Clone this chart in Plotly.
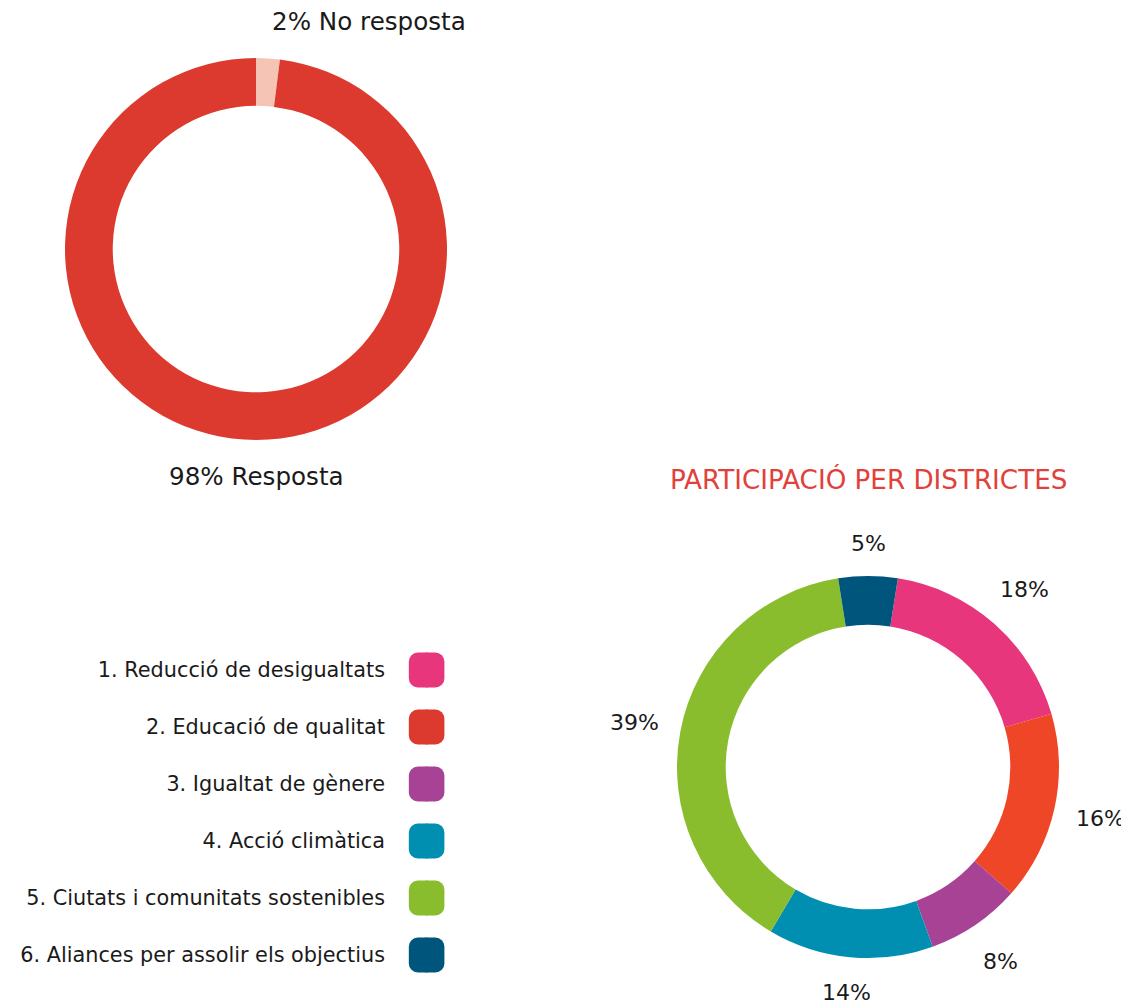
import math
import plotly.graph_objects as go

# page body has an 8px margin: the figure is drawn from (8, 8)
OFF = 8
W, H = 1129 - OFF, 1005 - OFF

# ---- data ----
resp_labels = ["No resposta", "Resposta"]
resp_values = [2, 98]
resp_colors = ["#F5C4B5", "#DC3A2F"]

cat_labels = [
    "1. Reducció de desigualtats",
    "2. Educació de qualitat",
    "3. Igualtat de gènere",
    "4. Acció climàtica",
    "5. Ciutats i comunitats sostenibles",
    "6. Aliances per assolir els objectius",
]
# slice order in the district donut (clockwise)
dist_values = [18, 16, 8, 14, 39, 5]
cat_colors = ["#E8367C", "#DC3A2F", "#A84294", "#008FB0", "#8ABD2E", "#00557D"]
dist_colors = ["#E8367C", "#EE4626", "#A84294", "#008FB0", "#8ABD2E", "#00557D"]
dist_title = "PARTICIPACIÓ PER DISTRICTES"

FONT = "DejaVu Sans"
TXT = "#1a1a1a"


def X(px):
    return (px - OFF) / W


def Y(py):
    return 1 - (py - OFF) / H


fig = go.Figure()

# geometry (reference pixels)
top_c = (256, 249)
bot_c = (868, 767)
R = 191
top_rot = 0
bot_rot = 9


def dom(c):
    return dict(x=[X(c[0] - R), X(c[0] + R)], y=[Y(c[1] + R), Y(c[1] - R)])


fig.add_trace(go.Pie(
    labels=resp_labels, values=resp_values, sort=False, direction="clockwise",
    rotation=top_rot, hole=0.75, marker=dict(colors=resp_colors, line=dict(width=0)),
    textinfo="none", hoverinfo="label+percent", domain=dom(top_c), showlegend=False,
))

fig.add_trace(go.Pie(
    labels=[str(i) for i in range(len(dist_values))], values=dist_values, sort=False,
    direction="clockwise", rotation=bot_rot, hole=0.745,
    marker=dict(colors=dist_colors, line=dict(width=0)),
    textinfo="none", hoverinfo="percent", domain=dom(bot_c), showlegend=False,
))


def add_labels(values, texts, center, rot, r0, hw, hh, anchor_rule, size):
    total = sum(values)
    acc = 0
    for v, t in zip(values, texts):
        mid = rot + (acc + v / 2) / total * 360
        acc += v
        a = math.radians(mid)
        s, c = math.sin(a), math.cos(a)
        rad = r0 + abs(s) * hw + abs(c) * hh
        px = center[0] + rad * s
        py = center[1] - rad * c
        xa = "center"
        if anchor_rule:
            if s > 0.05:
                xa = "left"
            elif s < -0.1:
                xa = "right"
            else:
                px = center[0]  # near-vertical labels snap to the axis
        fig.add_annotation(x=X(px), y=Y(py), xref="paper", yref="paper",
                           text=t, showarrow=False, xanchor=xa, yanchor="middle",
                           font=dict(family=FONT, size=size, color=TXT))


add_labels(resp_values, [f"{v}% {l}" for v, l in zip(resp_values, resp_labels)],
           top_c, top_rot, 215, 0, 13, True, 24.6)
add_labels(dist_values, [f"{v}%" for v in dist_values], bot_c, bot_rot, 212, 24, 12,
           False, 22)

fig.add_annotation(x=X(bot_c[0]), y=Y(480), xref="paper", yref="paper",
                   text=dist_title, showarrow=False, xanchor="center", yanchor="middle",
                   font=dict(family=FONT, size=26.2, color="#E2403A"))

# ---- legend as rounded squares (two overlapping bars, each rounded at its far end) ----
for sgn in (1, -1):
    fig.add_trace(go.Bar(
        y=cat_labels, x=[0.75 * sgn] * len(cat_labels), base=[-0.25 * sgn] * len(cat_labels),
        orientation="h", width=35 / 57,
        marker=dict(color=cat_colors, cornerradius=9, line=dict(width=0)),
        xaxis="x", yaxis="y", showlegend=False, hoverinfo="y",
    ))

fig.update_layout(
    width=W, height=H, margin=dict(l=0, r=0, t=0, b=0),
    paper_bgcolor="white", plot_bgcolor="rgba(0,0,0,0)",
    barmode="overlay", showlegend=False,
    xaxis=dict(domain=[X(389), X(450)], range=[-0.5 - 19.5 / 35, 0.5 + 5.5 / 35],
               visible=False, fixedrange=True),
    yaxis=dict(domain=[Y(983.5), Y(641.5)], autorange="reversed",
               showgrid=False, zeroline=False, showline=False, ticks="",
               ticklabelstandoff=3,
               tickfont=dict(family=FONT, size=20.8, color=TXT), fixedrange=True),
)

fig.write_html("out.html")
